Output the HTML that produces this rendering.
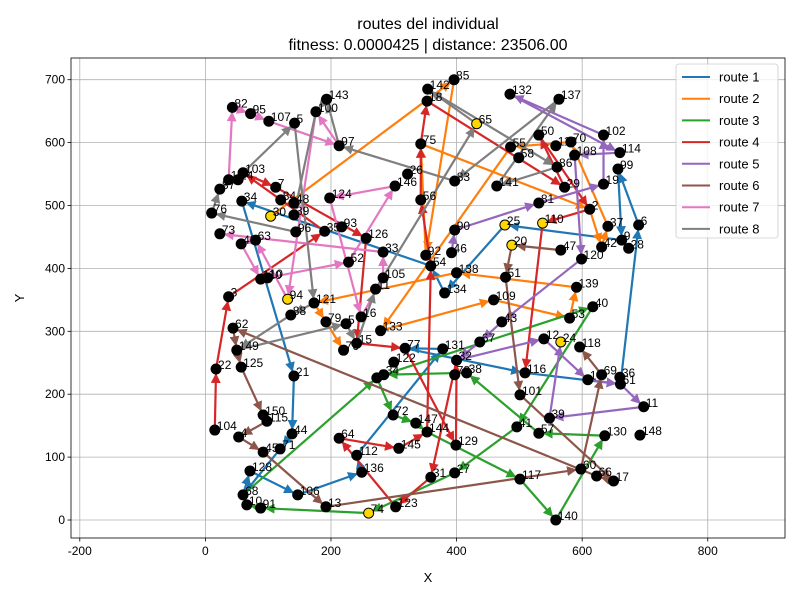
<!DOCTYPE html>
<html><head><meta charset="utf-8"><style>
body{margin:0;background:#fff;}
svg{font-family:"Liberation Sans","DejaVu Sans",sans-serif;}
</style></head><body>
<svg id="chart" width="800" height="600" viewBox="0 0 800 600">
<rect width="800" height="600" fill="#fff"/>
<text x="428" y="29" font-size="16" text-anchor="middle">routes del individual</text>
<text x="428" y="50" font-size="16" text-anchor="middle">fitness: 0.0000425 | distance: 23506.00</text>
<g id="grid"></g>
<g id="routes"></g>
<g id="nodes"></g>
<rect x="71" y="58" width="714" height="480" fill="none" stroke="#000" stroke-width="0.8"/>
<g id="ticks"></g>
<text x="428" y="582" font-size="13" text-anchor="middle">X</text>
<text x="24" y="298" font-size="13" text-anchor="middle" transform="rotate(-90 24 298)">Y</text>
<g id="legend"></g>
</svg>
<script>
const xTicks=[-200,0,200,400,600,800];
const yTicks=[0,100,200,300,400,500,600,700];
const nodeKeys=["82","95","107","5","143","100","97","142","18","85","65","75","26","146","83","56","124","103","1","14","87","7","84","48","34","30","39","76","96","35","93","126","73","48b","63","33","52","92","54","90","46","138","134","110b","10b","105","11b","3","94","121","132","137","50","113","70","102","108","114","55","58","86","99","141","29","19","81","2","25","110","37","6","9","42","28","20","47","120","51","139","109","62","149","22","125","21","150","115","104","4","44","45","71","128","68","10","91","106","13","74","123","31","27","64","112","136","145","147","144","72","129","8","34b","122","77","131","32","78","38","79","5b","16","133","15","76b","88","67","40","53","43","12","24","118","116","1b","69","36","61","101","11","39b","41","57","130","148","60","66","17","117","140"];
const nodeX=[43,72,101,142,193,176,213,354,353,396,432,343,322,302,397,343,198,60,37,52,23,112,120,141,58,104,141,10,144,190,217,256,23,57,80,283,228,351,359,397,392,400,381,88,99,283,271,37,131,173,485,563,531,558,582,634,588,660,486,499,560,657,464,572,634,531,612,477,537,641,690,663,631,674,488,566,599,478,591,459,44,50,17,57,141,92,98,15,53,138,92,119,71,60,66,88,147,192,260,303,359,397,213,241,249,308,335,353,299,399,273,284,300,318,378,400,397,416,192,224,248,279,241,220,136,437,617,580,472,539,566,596,509,609,631,660,661,501,698,548,496,531,636,692,598,623,650,501,558];
const nodeY=[656,646,634,631,669,649,595,685,666,700,630,598,550,531,539,509,512,552,541,541,526,529,509,504,507,483,485,488,458,459,466,448,455,439,445,426,410,421,404,461,425,393,361,383,385,385,367,355,351,345,677,669,612,595,601,612,580,584,593,576,561,558,531,529,534,504,494,469,472,467,469,445,434,432,437,429,415,386,370,350,305,270,240,243,229,167,157,143,132,137,108,113,78,40,24,19,40,21,11,21,68,75,130,103,76,114,154,140,167,119,226,231,251,273,272,254,231,234,315,312,323,301,281,270,326,283,339,321,315,288,283,275,234,223,231,227,216,199,180,162,148,138,134,135,81,70,62,65,0];
const depotKeys=["65","30","94","25","110","20","24","74"];
const route1=["61","6","99","9","25","134","54","34","21","44","71","68","128","106","136","112","131","77","116","61"];
const route2=["30","85","92","75","2","42","37","70","55","133","109","53","139","138","121","79","76b"];
const route3=["68","8","72","147","144","117","140","130","57","38","34b","40","41","27","74","91","10"];
const route4=["104","22","3","35","103","7","126","15","77","129","32","31","123","64","145","144","54","56","75","18","29","50","2","110","116"];
const route5=["46","90","81","19","102","132","114","108","120","43","67","32","12","1b","61","11","39b","24"];
const route6=["47","20","51","101","17","66","62","149","125","150","115","4","45","13","60","69","118"];
const route7=["1","82","95","107","97","100","94","63","48b","110b","52","146","124","16","105","33","73"];
const route8=["96","76","87","103","5","121","88","149","5b","15","11b","65","142","86","141","137","83","97","143","100","39"];
const routeNames=["route 1","route 2","route 3","route 4","route 5","route 6","route 7","route 8"];
const routeColors=["#1f77b4","#ff7f0e","#2ca02c","#d62728","#9467bd","#8c564b","#e377c2","#7f7f7f"];
const routes=[route1,route2,route3,route4,route5,route6,route7,route8];

const NS="http://www.w3.org/2000/svg";
const X0=71,X1=785,Y0=58,Y1=538,XMIN=-214,XMAX=923,YMIN=-28.6,YMAX=734.5;
function sx(v){return X0+(v-XMIN)/(XMAX-XMIN)*(X1-X0);}
function sy(v){return Y1-(v-YMIN)/(YMAX-YMIN)*(Y1-Y0);}
function mk(tag,attrs,parent){const e=document.createElementNS(NS,tag);for(const k in attrs)e.setAttribute(k,attrs[k]);parent.appendChild(e);return e;}
const svg=document.getElementById('chart');
const grid=document.getElementById('grid'),ticks=document.getElementById('ticks');
xTicks.forEach(t=>{const x=sx(t);
 const g=mk('line',{x1:x,x2:x,y1:Y0,y2:Y1,stroke:'#b0b0b0','stroke-width':0.8},grid);
 
 
 const tk=mk('line',{x1:x,x2:x,y1:Y1,y2:Y1+3.5,stroke:'#000','stroke-width':0.8},ticks);
 
 
 const tx=mk('text',{x:x,y:Y1+17,'font-size':12,'text-anchor':'middle'},ticks);tx.textContent=t;
 
 
});
yTicks.forEach(t=>{const y=sy(t);
 const g=mk('line',{x1:X0,x2:X1,y1:y,y2:y,stroke:'#b0b0b0','stroke-width':0.8},grid);
 
 
 const tk=mk('line',{x1:X0-3.5,x2:X0,y1:y,y2:y,stroke:'#000','stroke-width':0.8},ticks);
 
 
 const tx=mk('text',{x:X0-6,y:y+4,'font-size':12,'text-anchor':'end'},ticks);tx.textContent=t;
 
 
});
const pos={};nodeKeys.forEach((k,i)=>pos[k]=[nodeX[i],nodeY[i]]);
const defs=mk('defs',{},svg);
routeColors.forEach((c,i)=>{const m=mk('marker',{id:'ah'+i,viewBox:'0 0 10 10',refX:9,refY:5,markerWidth:4.5,markerHeight:4.5,orient:'auto',markerUnits:'strokeWidth'},defs);
 mk('path',{d:'M0,0 L10,5 L0,10 z',fill:c},m);});
const rg=document.getElementById('routes');
routes.forEach((r,ri)=>{
 for(let i=0;i<r.length-1;i++){const a=pos[r[i]],b=pos[r[i+1]];if(!a||!b)continue;
  const x1=sx(a[0]),y1=sy(a[1]),x2=sx(b[0]),y2=sy(b[1]);
  const d=Math.hypot(x2-x1,y2-y1)||1,sh=Math.min(5,d/3);
  const ln=mk('line',{x1:x1+(x2-x1)*sh/d,y1:y1+(y2-y1)*sh/d,x2:x2-(x2-x1)*sh/d,y2:y2-(y2-y1)*sh/d,stroke:routeColors[ri],'stroke-width':2.2,'marker-end':'url(#ah'+ri+')'},rg);
  
  
 }});
const ng=document.getElementById('nodes');
nodeKeys.forEach((k,i)=>{const x=sx(nodeX[i]),y=sy(nodeY[i]);
 const dep=depotKeys.includes(k);
 const c=mk('circle',{cx:x,cy:y,r:5,fill:dep?'#ffd700':'#000',stroke:'#000','stroke-width':1},ng);
 
 
 const t=mk('text',{x:x+2,y:y,'font-size':12,fill:'#000'},ng);t.textContent=k.replace('b','');
 
 
});
const lg=document.getElementById('legend');
const box=mk('rect',{x:676,y:64,width:102,height:174,rx:3,fill:'#fff','fill-opacity':0.8,stroke:'#ccc','stroke-width':0.8},lg);


routeNames.forEach((n,i)=>{const y=77+i*21.7;
 const l=mk('line',{x1:682,x2:710,y1:y,y2:y,stroke:routeColors[i],'stroke-width':2},lg);
 
 
 const t=mk('text',{x:719,y:y+4.5,'font-size':13},lg);t.textContent=n;
 
 
});
</script>
</body></html>
